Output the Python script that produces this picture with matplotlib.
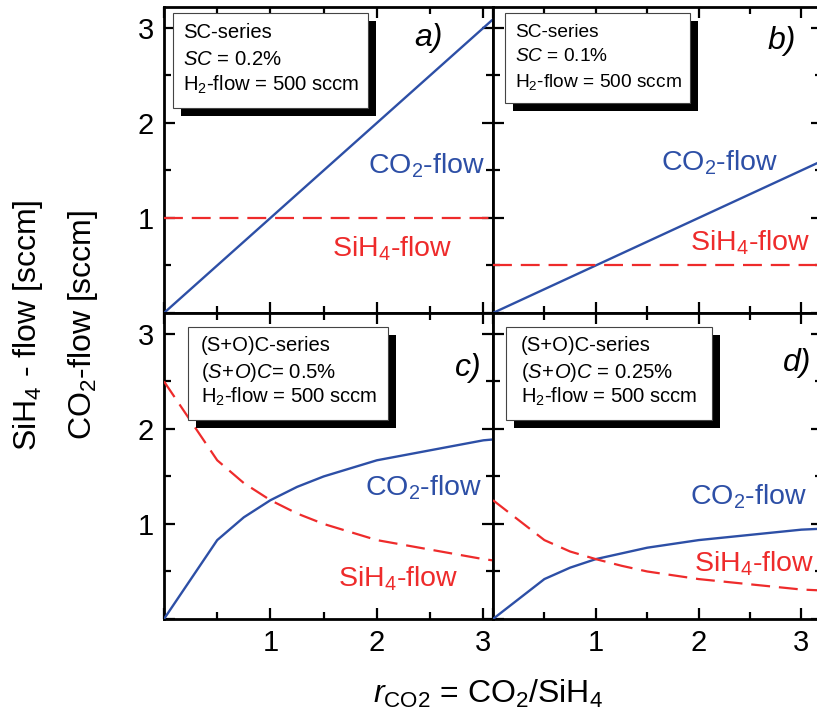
import matplotlib
matplotlib.use("Agg")
import matplotlib.pyplot as plt
from matplotlib.patches import Rectangle
from matplotlib.ticker import MultipleLocator

plt.rcParams['font.family'] = ['Liberation Sans', 'DejaVu Sans']
plt.rcParams['mathtext.fontset'] = 'custom'
plt.rcParams['mathtext.rm'] = 'Liberation Sans'
plt.rcParams['mathtext.it'] = 'Liberation Sans:italic'
plt.rcParams['mathtext.bf'] = 'Liberation Sans:bold'

# flow ratio r_CO2
r = [0, 0.5, 0.75, 1, 1.25, 1.5, 2, 3, 3.2]

# a) SC = 0.2 %
co2_a = [0, 0.5, 0.75, 1, 1.25, 1.5, 2, 3, 3.2]
sih4_a = [1, 1, 1, 1, 1, 1, 1, 1, 1]
# b) SC = 0.1 %
co2_b = [0, 0.25, 0.375, 0.5, 0.625, 0.75, 1, 1.5, 1.6]
sih4_b = [0.5, 0.5, 0.5, 0.5, 0.5, 0.5, 0.5, 0.5, 0.5]
# c) (S+O)C = 0.5 %
co2_c = [0, 0.83, 1.07, 1.25, 1.39, 1.5, 1.67, 1.88, 1.9]
sih4_c = [2.5, 1.67, 1.43, 1.25, 1.11, 1.0, 0.83, 0.63, 0.6]
# d) (S+O)C = 0.25 %
co2_d = [0, 0.42, 0.54, 0.63, 0.69, 0.75, 0.83, 0.94, 0.95]
sih4_d = [1.25, 0.83, 0.71, 0.63, 0.56, 0.5, 0.42, 0.31, 0.3]

box_a = ["SC-series", "$SC$ = 0.2%", "H$_2$-flow = 500 sccm"]
box_b = ["SC-series", "$SC$ = 0.1%", "H$_2$-flow = 500 sccm"]
box_c = ["(S+O)C-series", r"$\mathit{(S\!+\!O)C}$= 0.5%", "H$_2$-flow = 500 sccm"]
box_d = ["(S+O)C-series", r"$\mathit{(S\!+\!O)C}$ = 0.25%", "H$_2$-flow = 500 sccm"]

BLUE = '#2D4FA6'
RED = '#EE2B2B'

fig = plt.figure(figsize=(8.17, 7.17), dpi=100)

W = 0.4027
H = 0.4268
ax_a = fig.add_axes([0.2007, 0.5635, W, H])
ax_b = fig.add_axes([0.6034, 0.5635, W, H])
ax_c = fig.add_axes([0.2007, 0.1367, W, H])
ax_d = fig.add_axes([0.6034, 0.1367, W, H])

panels = [
    (ax_a, co2_a, sih4_a, box_a, (0.027, 0.67, 0.593, 0.31), (0.058, [0.915, 0.827, 0.745], 14.6),
     'a)', (0.805, 0.90), (0.62, 0.48), (0.51, 0.21), 3.09),
    (ax_b, co2_b, sih4_b, box_b, (0.036, 0.686, 0.564, 0.294), (0.067, [0.915, 0.837, 0.755], 13.8),
     'b)', (0.878, 0.89), (0.51, 0.49), (0.60, 0.23), 3.2),
    (ax_c, co2_c, sih4_c, box_c, (0.073, 0.65, 0.607, 0.304), (0.112, [0.895, 0.807, 0.725], 14.6),
     'c)', (0.925, 0.82), (0.61, 0.43), (0.53, 0.13), 3.09),
    (ax_d, co2_d, sih4_d, box_d, (0.04, 0.65, 0.626, 0.304), (0.085, [0.895, 0.807, 0.725], 14.6),
     'd)', (0.924, 0.836), (0.60, 0.40), (0.61, 0.18), 3.2),
]

for ax, co2, sih4, lines, box, txt, tag, tagpos, co2pos, sihpos, xmax in panels:
    ax.plot(r, co2, color=BLUE, lw=1.7, zorder=3)
    ax.plot(r, sih4, color=RED, lw=1.6, dashes=(8.5, 4), zorder=3)
    ax.set_xlim(0, xmax)
    ax.set_ylim(0, 3.22)
    ax.xaxis.set_major_locator(MultipleLocator(1))
    ax.xaxis.set_minor_locator(MultipleLocator(0.5))
    ax.yaxis.set_major_locator(MultipleLocator(1))
    ax.yaxis.set_minor_locator(MultipleLocator(0.5))
    ax.tick_params(which='both', direction='in', top=True, right=True,
                   width=1.6, labelsize=21, pad=7)
    ax.tick_params(which='major', length=8)
    ax.tick_params(which='minor', length=5)
    for sp in ax.spines.values():
        sp.set_linewidth(2)
    ax.xaxis.set_major_formatter(plt.FuncFormatter(lambda v, p: '' if v == 0 else '%d' % v))
    ax.yaxis.set_major_formatter(plt.FuncFormatter(lambda v, p: '' if v == 0 else '%d' % v))

    # info box with offset shadow
    bx, by, bw, bh = box
    ax.add_patch(Rectangle((bx + 0.024, by - 0.027), bw, bh, transform=ax.transAxes,
                           facecolor='black', edgecolor='none', zorder=5))
    ax.add_patch(Rectangle((bx, by), bw, bh, transform=ax.transAxes,
                           facecolor='white', edgecolor='#444444', lw=0.8, zorder=6))
    tx, tys, fs = txt
    for s, ty in zip(lines, tys):
        ax.text(tx, ty, s, transform=ax.transAxes, fontsize=fs, va='center', ha='left', zorder=7)

    ax.text(tagpos[0], tagpos[1], tag, transform=ax.transAxes, fontsize=23,
            style='italic', ha='center', va='center')
    ax.text(co2pos[0], co2pos[1], 'CO$_2$-flow', transform=ax.transAxes, fontsize=20.5,
            color=BLUE, ha='left', va='center')
    ax.text(sihpos[0], sihpos[1], 'SiH$_4$-flow', transform=ax.transAxes, fontsize=20.5,
            color=RED, ha='left', va='center')

ax_a.tick_params(labelbottom=False)
ax_b.tick_params(labelbottom=False, labelleft=False)
ax_d.tick_params(labelleft=False)

fig.text(0.034, 0.547, 'SiH$_4$ - flow [sccm]', rotation=90, fontsize=23,
         ha='center', va='center')
fig.text(0.101, 0.547, 'CO$_2$-flow [sccm]', rotation=90, fontsize=23,
         ha='center', va='center')
fig.text(0.597, 0.032, '$r_{\\mathrm{CO2}}$ = CO$_2$/SiH$_4$', fontsize=23,
         ha='center', va='center')

fig.savefig('out.png', dpi=100)
